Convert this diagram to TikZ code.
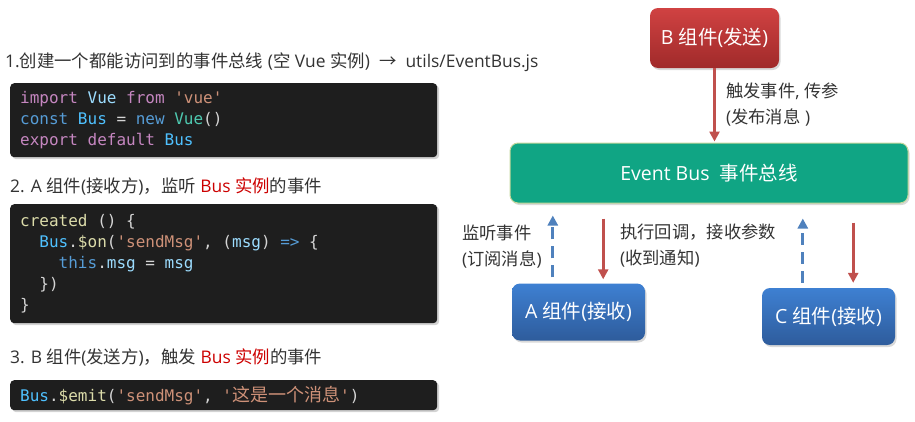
\documentclass[tikz,border=0pt]{standalone}
\usepackage{fontspec}
\setmainfont{Open Sans}
\setmonofont{DejaVu Sans Mono}
\newfontfamily\cjk{Noto Sans CJK SC}
\usepackage{xcolor}
\usetikzlibrary{
  arrows.meta,
  positioning,
  calc,
  shadows
}
\definecolor{ebText}{HTML}{333333}
\definecolor{ebHot}{HTML}{CC0000}
\definecolor{ebRedTop}{HTML}{D04242}
\definecolor{ebRedBot}{HTML}{A02A2A}
\definecolor{ebGreen}{HTML}{10A584}
\definecolor{ebGreenRim}{HTML}{C3D69B}
\definecolor{ebBlueTop}{HTML}{3E80D2}
\definecolor{ebBlueBot}{HTML}{2E5C9C}
\definecolor{ebArrRed}{HTML}{C0504D}
\definecolor{ebArrBlue}{HTML}{4F81BD}
\definecolor{ebCode}{HTML}{1E1E1E}
\definecolor{ebPunct}{HTML}{D4D4D4}
\definecolor{ebKw}{HTML}{C586C0}
\definecolor{ebVar}{HTML}{9CDCFE}
\definecolor{ebStr}{HTML}{CE9178}
\definecolor{ebStore}{HTML}{569CD6}
\definecolor{ebConst}{HTML}{4FC1FF}
\definecolor{ebClass}{HTML}{4EC9B0}
\definecolor{ebFn}{HTML}{DCDCAA}
\newcommand{\zh}[1]{{\cjk #1}}
\newcommand{\kw}[1]{\textcolor{ebKw}{#1}}
\newcommand{\vr}[1]{\textcolor{ebVar}{#1}}
\newcommand{\st}[1]{\textcolor{ebStr}{#1}}
\newcommand{\sto}[1]{\textcolor{ebStore}{#1}}
\newcommand{\cst}[1]{\textcolor{ebConst}{#1}}
\newcommand{\cls}[1]{\textcolor{ebClass}{#1}}
\newcommand{\fn}[1]{\textcolor{ebFn}{#1}}
\tikzset{
  ebnode/.style={
    rounded corners=8pt, minimum height=60pt, text=white,
    font=\fontsize{19.5}{23}\selectfont,
    drop shadow={opacity=0.3, shadow xshift=1.5pt, shadow yshift=-2pt}
  },
  sender/.style={ebnode, top color=ebRedTop, bottom color=ebRedBot, minimum width=129pt},
  busbox/.style={ebnode, fill=ebGreen, draw=ebGreenRim, line width=1pt, minimum width=398pt},
  receiver/.style={ebnode, top color=ebBlueTop, bottom color=ebBlueBot, minimum width=133pt, minimum height=57pt},
  codebox/.style={
    fill=ebCode, rounded corners=4pt, text width=407pt, inner xsep=10pt,
    align=left, anchor=north west, text=ebPunct,
    font=\ttfamily\fontsize{16}{21}\selectfont,
    execute at begin node={\spaceskip=9.63pt\relax},
    drop shadow={opacity=0.35, shadow xshift=2pt, shadow yshift=-2pt}
  },
  heading/.style={anchor=west, inner sep=0pt, text=ebText, font=\fontsize{17.4}{21}\selectfont},
  tag/.style={anchor=west, inner sep=0pt, align=left, text=ebText, font=\fontsize{17.3}{26}\selectfont},
  publish/.style={-{Triangle[length=10pt,width=10pt]}, line width=3pt, draw=ebArrRed},
  subscribe/.style={-{Triangle[length=10pt,width=10pt]}, line width=3pt, draw=ebArrBlue, dash pattern=on 12pt off 7pt}
}

\begin{document}
\begin{tikzpicture}[x=1pt, y=-1pt]
  \useasboundingbox (0,0) rectangle (915,421);
  % steps and code
  \node[heading] (h1) at (5,62) {1.\zh{创建一个都能访问到的事件总线} (\zh{空} Vue \zh{实例}) \ \zh{→} \ utils/EventBus.js};
  \node[codebox, minimum height=74pt] (code1) at (10,83) {%
    \kw{import} \vr{Vue} \kw{from} \st{'vue'}\\
    \sto{const} \cst{Bus} = \sto{new} \cls{Vue}()\\
    \kw{export} \kw{default} \cst{Bus}};
  \node[heading] (h2) at (10,187) {2. A \zh{组件}(\zh{接收方})\zh{，监听} \textcolor{ebHot}{Bus \zh{实例}}\zh{的事件}};
  \node[codebox, minimum height=119pt] (code2) at (10,204) {%
    \fn{created} () \{\\
    \phantom{xx}\cst{Bus}.\fn{\$on}(\st{'sendMsg'}, (\vr{msg}) \sto{=>} \{\\
    \phantom{xxxx}\sto{this}.\vr{msg} = \vr{msg}\\
    \phantom{xx}\})\\
    \}};
  \node[heading] (h3) at (10,357) {3. B \zh{组件}(\zh{发送方})\zh{，触发} \textcolor{ebHot}{Bus \zh{实例}}\zh{的事件}};
  \node[codebox, minimum height=30pt] (code3) at (10,380) {%
    \cst{Bus}.\fn{\$emit}(\st{'sendMsg'}, \st{'{\fontsize{18}{21}\selectfont\zh{这是一个消息}}'})};

  % event bus
  \node[sender] (b) at (714.5,38) {B \zh{组件}(\zh{发送})};
  \node[busbox] (bus) at (709,173) {Event Bus \ \zh{事件总线}};
  \node[receiver] (a) at (578.5,312) {A \zh{组件}(\zh{接收})};
  \node[receiver] (c) at (828.5,316.5) {C \zh{组件}(\zh{接收})};

  \draw[publish, shorten >=1pt] (b.south) -- (b.south |- bus.north);
  \node[tag] (fire) at (726,104.5) {\zh{触发事件}, \zh{传参}\\(\zh{发布消息} )};

  \coordinate (aup) at ([xshift=41pt]a.north west);
  \coordinate (adown) at ([xshift=-42pt]a.north east);
  \coordinate (cup) at ([xshift=41pt]c.north west);
  \coordinate (cdown) at ([xshift=-42pt]c.north east);
  \draw[subscribe, shorten <=6pt, shorten >=12pt] (aup) -- (aup |- bus.south);
  \draw[publish, shorten <=15pt, shorten >=4pt] (adown |- bus.south) -- (adown);
  \draw[subscribe, shorten <=5pt, shorten >=15pt] (cup) -- (cup |- bus.south);
  \draw[publish, shorten <=19pt, shorten >=5pt] (cdown |- bus.south) -- (cdown);
  \node[tag] (listen) at (462,246.5) {\zh{监听事件}\\(\zh{订阅消息})};
  \node[tag] (notify) at (620,245.5) {\zh{执行回调，接收参数}\\(\zh{收到通知})};
\end{tikzpicture}
\end{document}
